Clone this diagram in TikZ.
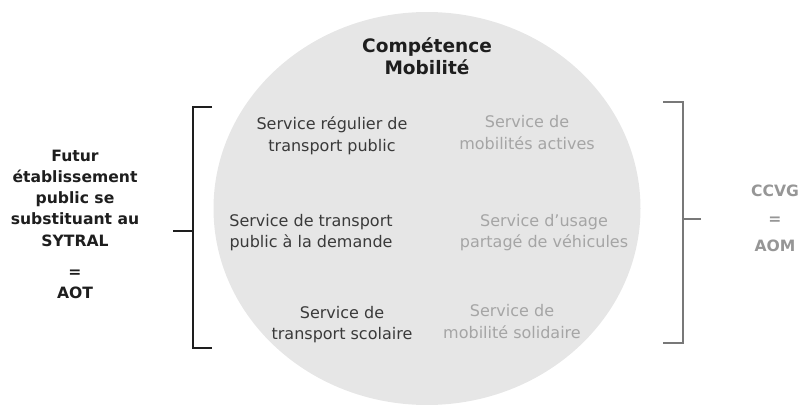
\documentclass[tikz,border=0pt]{standalone}
\usepackage{fontspec}
\setmainfont{DejaVu Sans}

\tikzset{every picture/.style={line width=0.75pt}}
\tikzset{
  inner text/.style={anchor=base,inner sep=0.75pt,align=center,text={rgb,255:red,58;green,58;blue,58},font=\fontsize{12}{16.5}\selectfont},
  outer text/.style={anchor=base,inner sep=0.75pt,align=center,text={rgb,255:red,165;green,165;blue,165},font=\fontsize{12}{16.5}\selectfont},
  side text/.style={anchor=base,inner sep=0.75pt,align=center,font=\fontsize{11.7}{16}\selectfont\bfseries}
}

\begin{document}
\begin{tikzpicture}[x=0.75pt,y=0.75pt,yscale=-1,xscale=1]
\useasboundingbox (0,0) rectangle (801,406); %set diagram left start at 0, and has height of 406

%Shape: Ellipse [id:dp_competence]
\fill [color={rgb, 255:red, 230; green, 230; blue, 230 }] (427,208.5) ellipse [x radius=213.5, y radius=196.5] ;

%Bracket corners
\coordinate (lbTopEnd) at (212,107) ;
\coordinate (lbTop) at (193,107) ;
\coordinate (lbBot) at (193,348) ;
\coordinate (lbBotEnd) at (212,348) ;
\coordinate (lbTick) at (173,231) ;
\coordinate (rbTopEnd) at (663,102) ;
\coordinate (rbTop) at (683,102) ;
\coordinate (rbBot) at (683,343) ;
\coordinate (rbBotEnd) at (663,343) ;
\coordinate (rbTick) at (701,219) ;

%Straight Lines [id:da_leftbracket]
\draw [color={rgb, 255:red, 30; green, 30; blue, 30 }][line width=1.5]  (lbTopEnd) -- (lbTop) -- (lbBot) -- (lbBotEnd) ;
\draw [color={rgb, 255:red, 30; green, 30; blue, 30 }][line width=1.5]  (lbTick) -- (lbTick -| lbTop) ;
%Straight Lines [id:da_rightbracket]
\draw [color={rgb, 255:red, 120; green, 120; blue, 120 }][line width=1.5]  (rbTopEnd) -- (rbTop) -- (rbBot) -- (rbBotEnd) ;
\draw [color={rgb, 255:red, 120; green, 120; blue, 120 }][line width=1.5]  (rbTick) -- (rbTick -| rbTop) ;

% Text Node
\draw (427,75) node (title) [anchor=base][inner sep=0.75pt][align=center][font=\fontsize{13.9}{16.5}\selectfont\bfseries][text={rgb, 255:red, 30; green, 30; blue, 30 }]  {Compétence\\Mobilité};
% Text Node
\draw (332,152) node (regulier) [inner text]  {Service régulier de\\transport public};
% Text Node
\draw (311,248) node (demande) [inner text]  {Service de transport\\public à la demande};
% Text Node
\draw (342,340) node (scolaire) [inner text]  {Service de\\transport scolaire};
% Text Node
\draw (527,150) node (actives) [outer text]  {Service de\\mobilités actives};
% Text Node
\draw (544,248) node (partage) [outer text]  {Service d’usage\\partagé de véhicules};
% Text Node
\draw (512,339) node (solidaire) [outer text]  {Service de\\mobilité solidaire};
% Text Node
\draw (75,299) node (aot) [side text][text={rgb, 255:red, 30; green, 30; blue, 30 }]  {Futur\\établissement\\public se\\substituant au\\SYTRAL\\[7.5pt]=\\AOT};
% Text Node
\draw (775,252) node (aom) [side text][text={rgb, 255:red, 150; green, 150; blue, 150 }]  {CCVG\\[4.8pt]=\\[4.8pt]AOM};

\end{tikzpicture}
\end{document}
